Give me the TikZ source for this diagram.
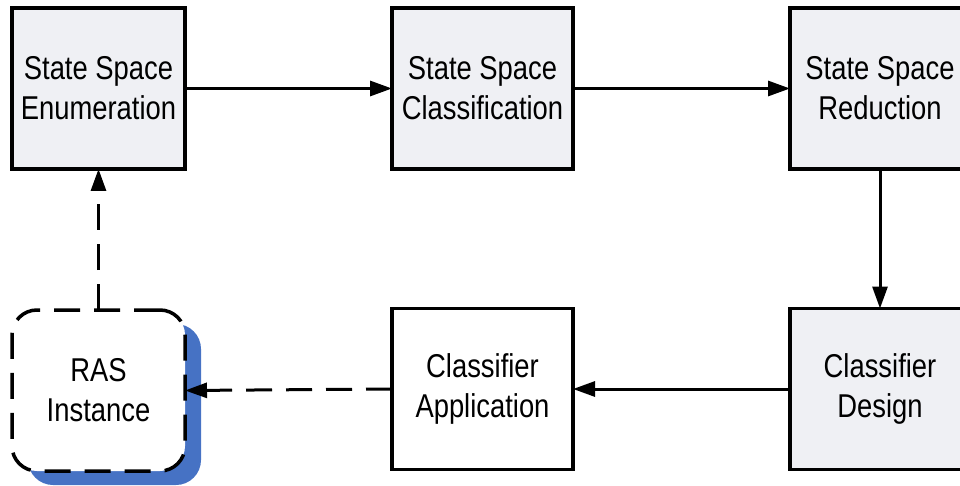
\documentclass[tikz,border=0pt]{standalone}
\usepackage{fontspec}
\setmainfont{Liberation Sans}[FakeStretch=0.83]
\usetikzlibrary{arrows.meta,backgrounds}
\definecolor{boxfill}{RGB}{239,240,244}
\definecolor{shadowblue}{RGB}{70,114,196}
\begin{document}
\begin{tikzpicture}[x=1pt,y=-1pt,
  box/.style={draw=black, line width=3.5pt, minimum width=#1, minimum height=161pt,
    inner sep=0pt, outer sep=0pt, align=center, font=\fontsize{33}{40}\selectfont},
  graybox/.style={box=#1, fill=boxfill},
  whitebox/.style={box=#1, fill=white},
  flow/.style={line width=3pt, -{Triangle[length=22pt,width=15pt]}},
  dashflow/.style={flow, dash pattern=on 26pt off 14pt}]
\useasboundingbox (0,0) rectangle (960,486);

\node[graybox=173pt] (enum) at (98.5,88.5) {State Space\\Enumeration};
\node[graybox=181pt] (classif) at (482.5,88.5) {State Space\\Classification};
\node[graybox=180pt] (reduct) at (880,88.5) {State Space\\Reduction};
\node[graybox=180pt] (design) at (880,389) {Classifier\\Design};
\node[whitebox=181pt] (appl) at (482.5,389) {Classifier\\Application};
\node[whitebox=173pt, rounded corners=25pt, dash pattern=on 26pt off 14pt] (ras) at (98.5,390.5) {RAS\\Instance};

\begin{scope}[on background layer]
  \fill[shadowblue, rounded corners=25pt]
    ([shift={(16,14)}]ras.north west) rectangle ([shift={(16,14)}]ras.south east);
\end{scope}

\draw[flow] (enum.east) -- (classif.west);
\draw[flow] (classif.east) -- (reduct.west);
\draw[flow] (reduct.south) -- (design.north);
\draw[flow] (design.west) -- (appl.east);
\draw[dashflow] (appl.west) -- (ras.east);
\draw[dashflow] (ras.north) -- (enum.south);
\end{tikzpicture}
\end{document}
